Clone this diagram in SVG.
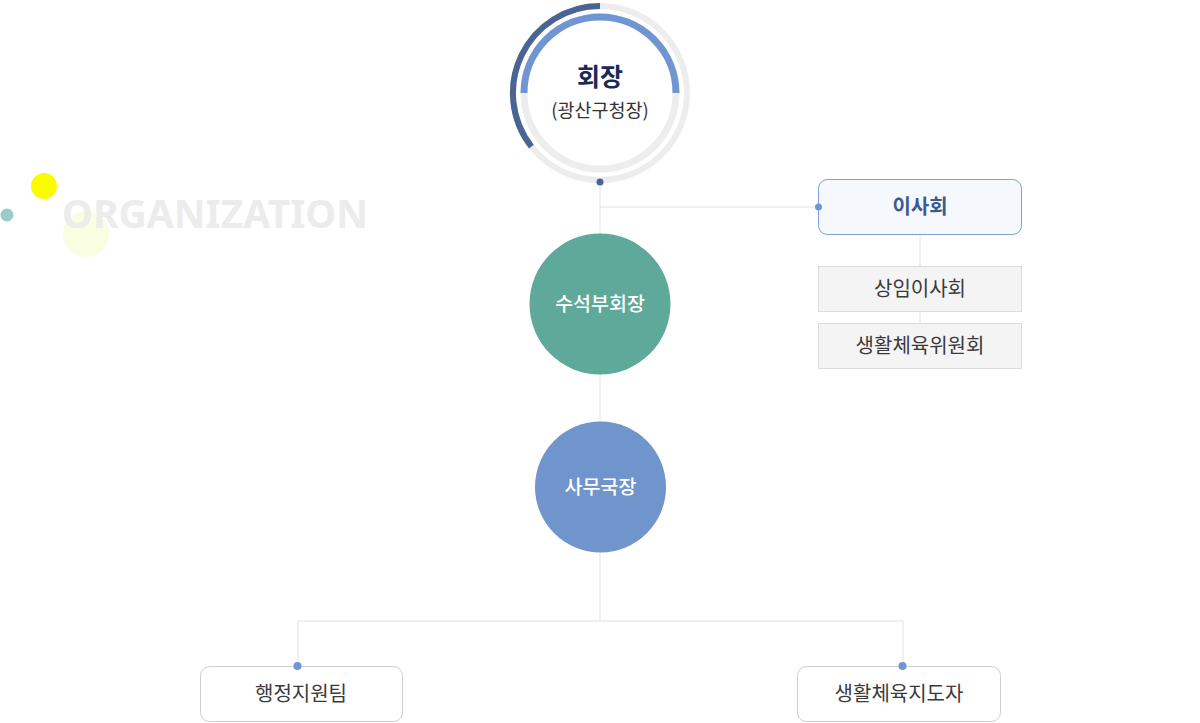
<svg xmlns="http://www.w3.org/2000/svg" width="1200" height="723" viewBox="0 0 1200 723">
<style>
text{font-family:"Noto Sans CJK KR","Noto Sans",sans-serif;text-anchor:middle}
.ln{stroke:#e2e2e2;stroke-width:1;fill:none}
.sub{fill:#f4f4f4;stroke:#dcdcdc;stroke-width:1}
.leaf{fill:#ffffff;stroke:#cfcfcf;stroke-width:1}
.lbl{font-size:20px;fill:#3a3a3a}
.dot{fill:#6f96d1}
.cl{font-size:19.5px;font-weight:500;fill:#fff}
</style>
<rect width="1200" height="723" fill="#ffffff"/>
<g id="bg-deco">
<circle cx="86" cy="234" r="23" fill="#f9fde2"/>
<circle cx="44" cy="186" r="13" fill="#fbfb00"/>
<circle cx="7" cy="215" r="6.5" fill="#9dcbc6"/>
<text x="62" y="228" style="text-anchor:start;font-family:'Noto Sans',sans-serif;font-weight:bold;font-size:40px;fill:#ebebeb;opacity:0.92" textLength="306" lengthAdjust="spacingAndGlyphs">ORGANIZATION</text>
</g>
<g id="connectors">
<line class="ln" x1="600" y1="182" x2="600" y2="621"/>
<line class="ln" x1="600" y1="207" x2="818" y2="207"/>
<line class="ln" x1="920" y1="235" x2="920" y2="323"/>
<polyline class="ln" points="298,666 298,621 903,621 903,666"/>
</g>
<g id="president">
<circle cx="600" cy="93" r="87" fill="none" stroke="#ededed" stroke-width="6"/>
<path d="M600 6 A87 87 0 0 0 531.4 146.6" fill="none" stroke="#4a6494" stroke-width="6"/>
<circle cx="600" cy="93" r="76" fill="none" stroke="#ededed" stroke-width="7"/>
<path d="M524 93 A76 76 0 0 1 676 93" fill="none" stroke="#6f96d1" stroke-width="7"/>
<circle cx="600" cy="182" r="3.5" fill="#4a6494"/>
<text x="600" y="86" style="font-size:25px;font-weight:bold;fill:#1b2a55">회장</text>
<text x="600" y="117" style="font-size:18.5px;fill:#333">(광산구청장)</text>
</g>
<g id="board">
<rect x="818.5" y="179.5" width="203" height="55" rx="9" fill="#f5f9fd" stroke="#7aa0d6"/>
<circle class="dot" cx="818.5" cy="207" r="3.5"/>
<text x="920" y="214" style="font-size:20px;font-weight:bold;fill:#3c5a8e">이사회</text>
</g>
<g id="standing-board">
<rect class="sub" x="818.5" y="266.5" width="203" height="45"/>
<text class="lbl" x="920" y="296">상임이사회</text>
</g>
<g id="sports-committee">
<rect class="sub" x="818.5" y="323.5" width="203" height="45"/>
<text class="lbl" x="920" y="353">생활체육위원회</text>
</g>
<g id="vice-president">
<circle cx="600" cy="304" r="70.5" fill="#5fa99a"/>
<text class="cl" x="600" y="311">수석부회장</text>
</g>
<g id="secretary-general">
<circle cx="600.5" cy="487" r="65.5" fill="#7094cc"/>
<text class="cl" x="600.5" y="494">사무국장</text>
</g>
<g id="admin-team">
<rect class="leaf" x="200.5" y="666.5" width="202" height="55" rx="9"/>
<circle class="dot" cx="297.5" cy="666" r="4"/>
<text class="lbl" x="301" y="701">행정지원팀</text>
</g>
<g id="sports-instructors">
<rect class="leaf" x="797.5" y="666.5" width="203" height="55" rx="9"/>
<circle class="dot" cx="902.5" cy="666" r="4"/>
<text class="lbl" x="899" y="701">생활체육지도자</text>
</g>
</svg>
